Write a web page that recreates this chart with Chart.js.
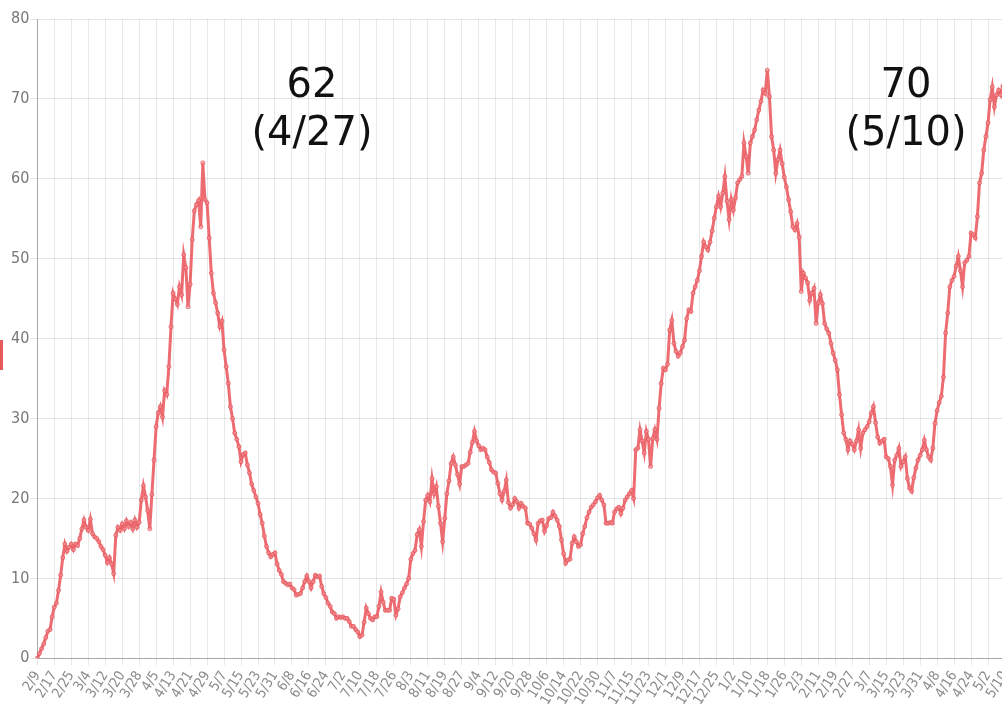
<!DOCTYPE html>
<html>
<head>
<meta charset="utf-8">
<script src="https://cdn.jsdelivr.net/npm/chart.js@4"></script>
<style>
html,body{margin:0;padding:0;overflow:hidden;background:#fff;width:1002px;height:711px;}
#wrap{position:absolute;left:0;top:0;width:1010px;height:711px;}
.note{position:absolute;width:200px;text-align:center;font-family:'DejaVu Sans',Verdana,sans-serif;font-size:40px;line-height:48px;color:#111;}
</style>
</head>
<body>
<div id="wrap"><canvas id="c" width="1010" height="711"></canvas></div>
<div class="note" style="left:212px;top:59px">62<br>(4/27)</div>
<div class="note" style="left:806px;top:59px">70<br>(5/10)</div>
<div style="position:absolute;left:0;top:340px;width:3px;height:30px;background:#e8595e"></div>
<script>
// Daily categories start on 2020-02-09; one label every 8 days
const startDate = [2020, 2, 9];
const dayCount = 457;
const tickEvery = 8;
const tickLabels = ['2/9','2/17','2/25','3/4','3/12','3/20','3/28','4/5','4/13','4/21','4/29','5/7','5/15','5/23','5/31','6/8','6/16','6/24','7/2','7/10','7/18','7/26','8/3','8/11','8/19','8/27','9/4','9/12','9/20','9/28','10/6','10/14','10/22','10/30','11/7','11/15','11/23','12/1','12/9','12/17','12/25','1/2','1/10','1/18','1/26','2/3','2/11','2/19','2/27','3/7','3/15','3/23','3/31','4/8','4/16','4/24','5/2','5/10'];

// Daily values, 2020-02-09 .. 2020-12-31
const values2020 = [
 0,0.6,1.2,1.8,2.6,3.4,3.6,5.2,
 6.4,6.9,8.5,10.4,12.6,14.3,13.4,13.9,
 14.3,13.6,14.3,14.1,15,16.2,17.3,16.4,
 16,17.4,15.6,15.2,15,14.6,14,13.6,
 12.9,12,12.6,11.8,10.6,15.4,16.4,16,
 16.8,16.2,17.2,16.5,17,16.2,17.3,16.4,
 17,19.8,21.6,20.2,18.5,16.2,20.5,24.8,
 29,30.7,31.5,30.2,33.5,33,36.5,41.5,
 45.7,45,44.3,46.5,45.5,50.5,48.9,44,
 46.8,52.4,56,56.8,57.3,54,62,57.4,
 57,52.6,48.2,45.7,44.5,43.2,41.5,42.2,
 38.6,36.5,34.4,31.5,30,28.2,27.4,26.5,
 24.6,25.5,25.7,24.2,23.2,21.8,21,20.2,
 19.4,18,16.9,15.3,14,13.2,12.7,13,
 13.2,11.8,11,10.5,9.6,9.4,9.2,9.3,
 8.8,8.6,7.9,8,8.1,8.8,9.6,10.3,
 9.6,8.8,9.6,10.4,10.2,10.3,9,8.1,
 7.6,6.9,6.5,5.8,5.6,5,5.2,5.1,
 5.2,5,5,4.6,4,4,3.6,3.3,
 2.7,2.9,4.5,6.3,5.6,5,4.8,5.2,
 5.2,6.5,8.3,7,6,6,6,7.5,
 7.4,5.4,6.2,7.7,8.2,8.8,9.3,10,
 12.4,13.1,13.5,15.5,16.1,14,17.1,19.8,
 20.4,19.6,22.5,20.6,21.5,19,16.9,14.6,
 17.5,20.6,22.2,24.4,25.2,24.2,23,21.8,
 24,24,24.2,24.4,25.8,27,28.4,27.2,
 26.6,26.1,26.3,26.1,25.2,24.5,23.6,23.3,
 23.2,21.9,20.6,19.8,20.9,22.3,19.5,18.8,
 19.2,20,19.6,18.8,19.4,19,18.8,16.9,
 16.8,16.3,15.6,14.8,16.9,17.2,17.3,15.9,
 16.6,17.5,17.6,18.3,17.8,17.3,16.5,14.8,
 13.1,11.9,12.3,12.4,14.4,15.2,14.6,14,
 14.2,15.6,16.5,17.6,18.3,18.9,19.2,19.6,
 20.1,20.4,19.8,19.2,16.9,16.9,17,16.9,
 18.3,18.7,18.9,18.1,18.8,19.8,20.2,20.6,
 21,20,26.1,26.3,28.6,27.2,25.7,28.4,
 27.4,24,27.5,28.6,27.4,31.3,34.4,36.3,
 36.1,36.8,41.1,42.3,39.4,38.4,37.8,38.2,
 39,39.8,42.5,43.6,43.4,45.7,46.5,47.3,
 48.5,50.3,52.1,51.5,51.1,52.1,53.5,55.1,
 56.5,57.8,56.5,58.2,60.3,57.2,54.9
];

// Daily values, 2021-01-01 .. 2021-05-10
const values2021 = [
 57.4,
 56.1,57.6,59.5,59.9,60.3,64.5,62.8,60.7,
 64.5,65.3,66.1,67.4,68.6,69.7,71.1,70.7,
 73.6,70.3,65.3,63.6,60.7,62.4,63.6,61.9,
 60.2,59,57.4,55.9,54,53.6,54.4,52.7,
 45.9,48.2,47.6,47,44.8,45.7,46.3,41.9,
 44.5,45.5,44.4,41.9,41.2,40.7,39.4,38.2,
 37.3,36.1,33,30.5,28.2,27.4,26.1,27.2,
 26.8,26.1,27.2,28.6,26.3,28.2,28.6,29,
 29.6,30.7,31.5,29.5,27.7,26.9,27.2,27.4,
 25.2,25,24,21.7,24.8,25.4,26.3,24,
 24.6,25.2,22.5,21.3,20.9,22.6,23.8,24.8,
 25.4,26.1,27.3,26.1,25.2,24.8,26.3,29.4,
 31,32,32.8,35.2,40.7,43.2,46.5,47.3,
 47.8,49.1,50.3,48.5,46.5,49.5,49.8,50.3,
 53.2,53,52.6,55.3,59.5,60.7,63.6,65.3,
 67,69.9,71.5,69,70.5,71.1,70.5,71.6,
 70
];

const values = values2020.concat(values2021);
const dayLabels = [];
const t0 = Date.UTC(startDate[0], startDate[1] - 1, startDate[2]);
for (let i = 0; i < dayCount; i++) {
  const dt = new Date(t0 + i * 86400000);
  dayLabels.push((dt.getUTCMonth() + 1) + '/' + dt.getUTCDate());
}

const tickFont = "'Liberation Sans Narrow','DejaVu Sans Condensed','Arial Narrow','Liberation Sans',sans-serif";
const vGrid = c => (c.index % tickEvery === 0 ? 'rgba(0,0,0,0.09)' : 'rgba(0,0,0,0)');

new Chart(document.getElementById('c'), {
  type: 'line',
  data: {
    labels: dayLabels,
    datasets: [{
      data: values,
      borderColor: 'rgba(233,88,94,0.88)',
      borderWidth: 3,
      pointRadius: 2,
      pointBorderWidth: 1,
      pointBackgroundColor: 'rgba(245,150,152,0.6)',
      pointBorderColor: 'rgba(228,82,88,0.75)',
      tension: 0,
      fill: false
    }]
  },
  options: {
    responsive: false,
    animation: false,
    devicePixelRatio: 1,
    layout: { padding: { top: 19, right: 2, left: 0, bottom: 0 } },
    plugins: { legend: { display: false }, tooltip: { enabled: false } },
    scales: {
      x: {
        grid: { color: vGrid, tickColor: vGrid, tickLength: 7, lineWidth: 1 },
        border: { color: '#a8a8a8', width: 1 },
        ticks: {
          autoSkip: false, minRotation: 58, maxRotation: 58,
          color: '#8a8a8a', padding: 3,
          font: { family: tickFont, size: 14 },
          callback: (v, i) => (i % tickEvery === 0 ? tickLabels[i / tickEvery] : '')
        },
        afterFit: s => { s.height = 52.7; s.paddingLeft = 0; s.paddingRight = 0; }
      },
      y: {
        min: 0, max: 80,
        grid: { color: 'rgba(0,0,0,0.1)', tickLength: 7 },
        border: { color: '#a8a8a8', width: 1 },
        ticks: { stepSize: 10, color: '#777', padding: 1, font: { family: tickFont, size: 16 } },
        afterFit: s => { s.width = 37.3; s.paddingTop = 0; s.paddingBottom = 0; }
      }
    }
  }
});
</script>
</body>
</html>
